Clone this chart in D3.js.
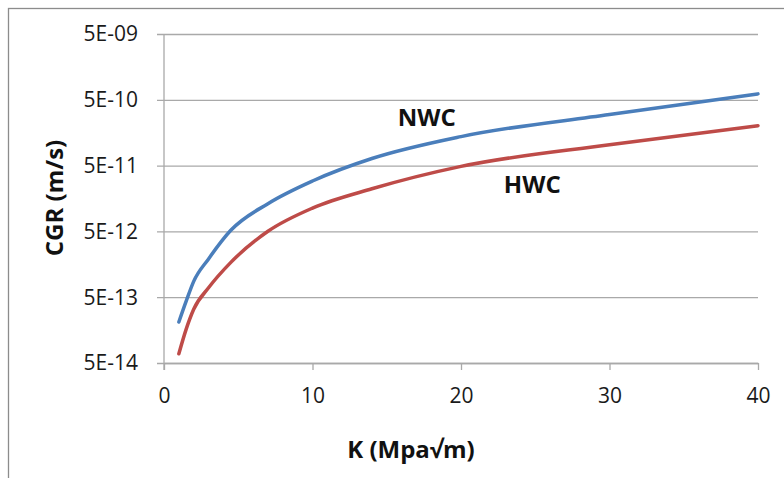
<!DOCTYPE html>
<html>
<head>
<meta charset="utf-8">
<script src="https://cdn.jsdelivr.net/npm/d3@7"></script>
<style>
  body { margin: 0; background: #fff; }
  svg { display: block; font-family: "Open Sans", sans-serif; }
</style>
</head>
<body>
<script>
// crack growth rate vs stress intensity, log y axis

var kValues   = [1, 1.5, 2, 3, 4.5, 7, 10, 14, 20, 30, 40];
var nwcValues = [2.1e-13, 4.39e-13, 8.7e-13, 1.91e-12, 5.2e-12, 1.32e-11, 2.92e-11, 6.41e-11, 1.38e-10, 2.98e-10, 6.15e-10];
var hwcValues = [6.9e-14, 1.65e-13, 3.28e-13, 6.95e-13, 1.69e-12, 5.02e-12, 1.13e-11, 2.22e-11, 4.86e-11, 1.04e-10, 2.02e-10];
var xTicks = [0, 10, 20, 30, 40];
var yTicks = [5e-14, 5e-13, 5e-12, 5e-11, 5e-10, 5e-9];
var yTickLabels = ["5E-14", "5E-13", "5E-12", "5E-11", "5E-10", "5E-09"];

(function(){
    var width = 784, height = 478;
    var margin = {left: 164, right: 26, top: 34, bottom: 115};

    var svg = d3.select("body").append("svg")
        .attr("width", width)
        .attr("height", height);

    //outer chart frame
    svg.append("rect")
        .attr("x", 8.5).attr("y", 8.5)
        .attr("width", 900).attr("height", 600)
        .attr("fill", "none")
        .attr("stroke", "#8c8c8c")
        .attr("stroke-width", 1.3);

    var x = d3.scaleLinear()
        .domain([0, 40])
        .range([margin.left, width - margin.right]);

    var y = d3.scaleLog()
        .domain([5e-14, 5e-9])
        .range([height - margin.bottom, margin.top]);

    //gridlines with outward tick stubs
    svg.append("g")
        .attr("transform", "translate(" + margin.left + ",0)")
        .call(d3.axisLeft(y)
            .tickValues(yTicks)
            .tickSize(-(width - margin.right - margin.left))
            .tickSizeOuter(0)
            .tickFormat(""))
        .call(function(g){
            g.select(".domain").remove();
            g.selectAll(".tick line")
                .attr("x1", -7)
                .attr("stroke", "#a9a9a9")
                .attr("stroke-width", 1.3);
        });

    //y tick labels
    svg.append("g").selectAll("text")
        .data(yTicks)
        .enter()
        .append("text")
        .attr("x", 138)
        .attr("y", function(d){ return y(d); })
        .attr("dy", "0.35em")
        .attr("text-anchor", "end")
        .attr("font-size", 21)
        .attr("fill", "#1a1a1a")
        .text(function(d, i){ return yTickLabels[i]; });

    //y axis line
    svg.append("line")
        .attr("x1", x(0)).attr("x2", x(0))
        .attr("y1", y(5e-9)).attr("y2", y(5e-14) + 7)
        .attr("stroke", "#a9a9a9")
        .attr("stroke-width", 1.3);

    //x axis
    svg.append("g")
        .attr("transform", "translate(0," + y(5e-14) + ")")
        .call(d3.axisBottom(x)
            .tickValues(xTicks)
            .tickSize(7)
            .tickSizeOuter(0)
            .tickPadding(18))
        .call(function(g){
            g.select(".domain").attr("stroke", "#a9a9a9").attr("stroke-width", 1.3);
            g.selectAll(".tick line").attr("stroke", "#a9a9a9").attr("stroke-width", 1.3);
            g.selectAll(".tick text")
                .attr("font-size", 21)
                .attr("font-family", "Open Sans, sans-serif")
                .attr("fill", "#1a1a1a");
        });

    var line = d3.line()
        .x(function(d){ return x(d[0]); })
        .y(function(d){ return y(d[1]); })
        .curve(d3.curveMonotoneX);

    var series = [
        {name: "NWC", values: nwcValues, color: "#4a7ebb"},
        {name: "HWC", values: hwcValues, color: "#be4b48"}
    ];

    svg.selectAll(".series")
        .data(series)
        .enter()
        .append("path")
        .attr("class", "series")
        .attr("fill", "none")
        .attr("stroke", function(d){ return d.color; })
        .attr("stroke-width", 3.5)
        .attr("stroke-linejoin", "round")
        .attr("stroke-linecap", "round")
        .attr("d", function(d){
            return line(kValues.map(function(k, i){ return [k, d.values[i]]; }));
        });

    //series labels
    var labels = [
        {text: "NWC", k: 17.7, v: 2.7e-10},
        {text: "HWC", k: 24.8, v: 2.56e-11}
    ];
    svg.selectAll(".lbl")
        .data(labels)
        .enter()
        .append("text")
        .attr("class", "lbl")
        .attr("x", function(d){ return x(d.k); })
        .attr("y", function(d){ return y(d.v); })
        .attr("dy", "0.35em")
        .attr("text-anchor", "middle")
        .attr("font-size", 24)
        .attr("font-weight", "bold")
        .attr("fill", "#111")
        .text(function(d){ return d.text; });

    //axis titles
    svg.append("text")
        .attr("x", 411).attr("y", 450)
        .attr("dy", "0.35em")
        .attr("text-anchor", "middle")
        .attr("font-size", 24)
        .attr("font-weight", "bold")
        .attr("fill", "#111")
        .text("K (Mpa\u221Am)");

    svg.append("text")
        .attr("transform", "translate(55,198) rotate(-90)")
        .attr("dy", "0.35em")
        .attr("text-anchor", "middle")
        .attr("font-size", 24)
        .attr("font-weight", "bold")
        .attr("fill", "#111")
        .text("CGR (m/s)");
})();
</script>
</body>
</html>
